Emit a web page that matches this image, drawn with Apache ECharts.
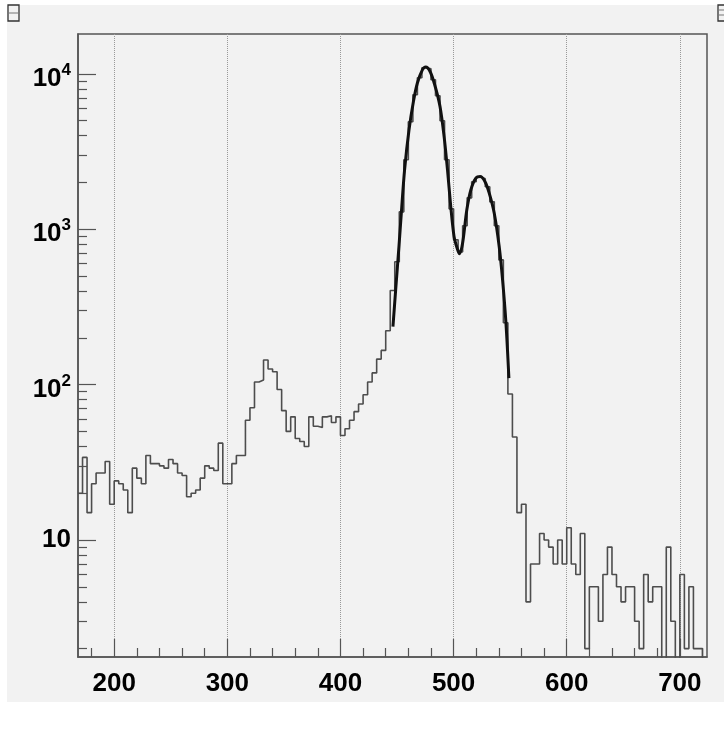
<!DOCTYPE html>
<html>
<head>
<meta charset="utf-8">
<script src="https://cdn.jsdelivr.net/npm/echarts@6/dist/echarts.min.js"></script>
<style>
  html, body { margin: 0; padding: 0; background: #fff; }
  #chart { width: 724px; height: 729px; }
</style>
</head>
<body>
<div id="chart"></div>
<script>
// histogram: 4-unit bins starting at 168
const binStart = 168;
const binWidth = 4;
const counts = [
  20, 34, 15, 23, 27, 27, 32, 17, 24, 23,
  21, 15, 29, 25, 23, 35, 31, 31, 30, 29,
  33, 31, 27, 26, 19, 20, 21, 25, 30, 29,
  28, 42, 23, 23, 31, 35, 35, 59, 71, 104,
  107, 144, 126, 121, 93, 68, 50, 62, 45, 43,
  40, 62, 54, 53, 62, 63, 57, 62, 47, 52,
  59, 67, 75, 86, 104, 119, 146, 166, 222, 403,
  617, 1294, 2799, 4918, 7330, 9440, 10940, 10790, 9160, 7230,
  4990, 2800, 1353, 855, 715, 1052, 1592, 2019, 2175, 2113,
  1875, 1500, 1052, 635, 250, 87, 46, 15, 17, 4,
  7, 7, 11, 10, 9, 7, 10, 7, 12, 7,
  6, 11, 2, 5, 5, 3, 6, 9, 6, 5,
  4, 5, 5, 3, 2, 6, 4, 5, 5, 1,
  9, 3, 1, 6, 2, 5, 2, 2, 1
];

// fit curve
const fitX = [446.4, 448.8, 451.7, 453.8, 456.7, 460.6, 464.5, 468.0, 472.4, 475.4,
  479.2, 483.3, 488.0, 491.6, 494.6, 497.5, 500.4, 503.0, 505.2, 507.2,
  508.8, 511.7, 515.3, 519.7, 523.5, 527.7, 531.5, 535.9, 540.3, 543.3,
  546.3, 548.9];
const fitY = [236, 407, 774, 1271, 2415, 4365, 6637, 8730, 10610, 11060,
  10350, 8510, 6170, 3955, 2415, 1400, 897, 760, 695, 760,
  897, 1334, 1795, 2133, 2183, 2028, 1707, 1271, 774, 472,
  248, 110];

const xMajor = [200, 300, 400, 500, 600, 700];
const xMinor = [180, 220, 240, 260, 280, 320, 340, 360, 380, 420, 440, 460, 480,
  520, 540, 560, 580, 620, 640, 660, 680, 720];
const yMajor = [10, 100, 1000, 10000];
const yMinor = [2, 3, 4, 5, 6, 7, 8, 9, 20, 30, 40, 50, 60, 70, 80, 90,
  200, 300, 400, 500, 600, 700, 800, 900, 2000, 3000, 4000, 5000, 6000, 7000, 8000, 9000];

let histData = counts.map((c, i) => [binStart + i * binWidth, c]);
histData.push([binStart + counts.length * binWidth, counts[counts.length - 1]]);
let fitData = fitX.map((x, i) => [x, fitY[i]]);

const axisColor = "#555";
const labelFont = {
  color: "#000",
  fontFamily: "Liberation Sans, Arial, sans-serif",
  fontWeight: "bold",
  fontSize: 26
};

let myChart = echarts.init(document.getElementById("chart"));
myChart.setOption({
  animation: false,
  backgroundColor: "#fff",
  graphic: [
    // canvas panel
    {
      type: "rect",
      z: -10,
      shape: { x: 7, y: 5, width: 717, height: 697 },
      style: { fill: "#f2f2f2" }
    },
    // little toolbar boxes in the corners
    {
      type: "rect",
      shape: { x: 8, y: 5, width: 11, height: 16 },
      style: { fill: "#f2f2f2", stroke: "#333", lineWidth: 1.3 }
    },
    {
      type: "line",
      shape: { x1: 8, y1: 13, x2: 19, y2: 13 },
      style: { stroke: "#777", lineWidth: 1 }
    },
    {
      type: "rect",
      shape: { x: 718, y: 5, width: 11, height: 16 },
      style: { fill: "#f2f2f2", stroke: "#333", lineWidth: 1.3 }
    },
    {
      type: "line",
      shape: { x1: 718, y1: 10, x2: 724, y2: 10 },
      style: { stroke: "#777", lineWidth: 1 }
    },
    {
      type: "line",
      shape: { x1: 718, y1: 15, x2: 724, y2: 15 },
      style: { stroke: "#777", lineWidth: 1 }
    }
  ],
  grid: {
    left: 78,
    right: 17,
    top: 34,
    bottom: 72,
    show: true,
    backgroundColor: "#f2f2f2",
    borderColor: axisColor,
    borderWidth: 1.5
  },
  xAxis: [
    {
      type: "value",
      min: 168,
      max: 724,
      position: "bottom",
      axisLine: { show: true, lineStyle: { color: axisColor, width: 1.5 } },
      axisTick: {
        inside: true,
        length: 18,
        customValues: xMajor,
        lineStyle: { color: axisColor, width: 1.2 }
      },
      axisLabel: Object.assign({ customValues: xMajor, margin: 14 }, labelFont),
      splitLine: { show: true, lineStyle: { type: "dotted", color: "#999", width: 1 } }
    },
    {
      type: "value",
      min: 168,
      max: 724,
      position: "bottom",
      axisLine: { show: false },
      axisTick: {
        inside: true,
        length: 9,
        customValues: xMinor,
        lineStyle: { color: axisColor, width: 1.2 }
      },
      axisLabel: { show: false },
      splitLine: { show: false }
    }
  ],
  yAxis: [
    {
      type: "log",
      logBase: 10,
      min: 1.766,
      max: 18050,
      axisLine: { show: true, lineStyle: { color: axisColor, width: 1.5 } },
      axisTick: {
        inside: true,
        length: 18,
        customValues: yMajor,
        lineStyle: { color: axisColor, width: 1.2 }
      },
      axisLabel: {
        customValues: yMajor,
        margin: 7,
        formatter: function(v) {
          let e = Math.round(Math.log10(v));
          if (e === 1) return "{c|10}";
          return "{b|10}{s|" + e + "}";
        },
        rich: {
          c: Object.assign({ lineHeight: 28 }, labelFont),
          b: Object.assign({ lineHeight: 28, padding: [10, 0, 0, 0] }, labelFont),
          s: Object.assign({}, labelFont, { fontSize: 17, lineHeight: 18, padding: [0, 0, 7, 0] })
        }
      },
      splitLine: { show: false }
    },
    {
      type: "log",
      logBase: 10,
      min: 1.766,
      max: 18050,
      position: "left",
      axisLine: { show: false },
      axisTick: {
        inside: true,
        length: 9,
        customValues: yMinor,
        lineStyle: { color: axisColor, width: 1.2 }
      },
      axisLabel: { show: false },
      splitLine: { show: false }
    }
  ],
  series: [
    {
      name: "hist",
      type: "line",
      step: "end",
      data: histData,
      symbol: "none",
      clip: true,
      lineStyle: { color: "#4d4d4d", width: 1.6 }
    },
    {
      name: "fit",
      type: "line",
      data: fitData,
      smooth: 0.3,
      symbol: "none",
      clip: true,
      z: 3,
      lineStyle: { color: "#111", width: 3 }
    }
  ]
});
</script>
</body>
</html>
